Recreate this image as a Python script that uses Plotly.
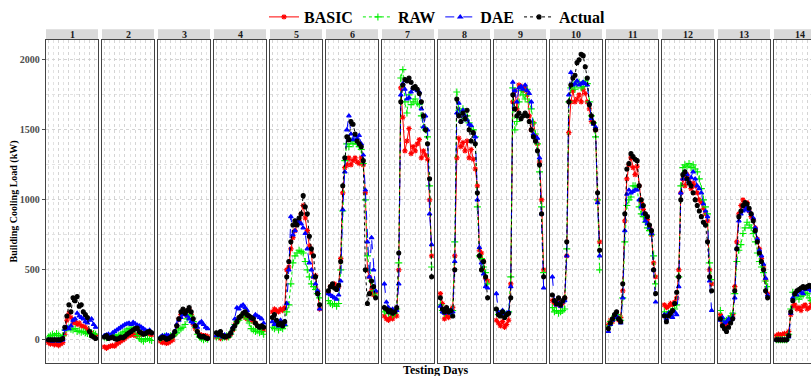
import plotly.graph_objects as go

# ---------------- data (kW), 24 readings per testing day ----------------
days = [str(i) for i in range(1, 15)]
hours = list(range(24))

basic = [
    [-20,-30,-25,-35,-30,-40,-30,-20,40,140,190,160,120,130,110,120,100,95,90,70,60,50,40,30],
    [-50,-60,-50,-45,-40,-45,-30,-20,-10,0,10,25,30,35,40,30,40,35,45,40,50,45,40,35],
    [-10,-20,-15,-25,-20,-10,0,40,100,150,180,210,200,170,220,180,110,80,60,40,35,30,30,25],
    [20,30,10,20,30,15,25,40,70,110,130,150,170,180,160,150,150,140,130,120,100,90,80,70],
    [200,220,210,200,220,210,230,500,520,650,730,780,830,850,900,960,870,780,670,620,450,460,350,220],
    [340,380,390,400,370,380,580,1050,1230,1250,1300,1250,1280,1300,1270,1260,1300,1250,1050,500,450,350,320,340],
    [170,150,140,160,150,180,170,500,1800,1590,1350,1420,1510,1330,1380,1350,1400,1430,1300,1350,1320,1290,1000,600],
    [330,260,150,180,160,200,230,600,1300,1440,1380,1410,1350,1420,1300,1360,1290,1220,1100,640,620,560,440,420],
    [140,120,100,130,90,110,140,400,1700,1780,1650,1820,1810,1780,1800,1750,1600,1500,1550,1460,1400,1270,1000,500],
    [280,260,250,270,240,260,300,600,1480,1700,1780,1700,1720,1750,1700,1790,1760,1700,1650,1560,1550,1500,1000,700],
    [110,140,130,160,180,140,160,350,850,1150,1250,1300,1230,1180,1240,1100,980,930,880,860,800,750,550,450],
    [250,230,240,260,250,270,300,500,1050,1150,1100,1180,1150,1080,1120,1100,1050,1000,980,940,900,850,500,400],
    [180,120,100,110,130,160,180,380,700,900,960,1000,950,980,920,880,860,800,720,650,580,520,430,330],
    [30,40,35,40,45,40,60,180,240,250,220,230,210,240,250,220,230,260,240,230,220,200,180,150],
]

raw = [
    [20,30,40,30,45,35,20,30,70,80,85,75,70,80,60,65,55,60,50,45,40,50,45,40],
    [20,15,30,25,40,35,20,30,40,50,60,70,80,75,90,70,30,10,0,-10,5,10,0,-5],
    [10,20,25,15,20,30,25,40,50,70,80,90,110,150,180,170,130,90,40,20,10,0,10,5],
    [20,25,30,15,20,30,20,40,70,110,130,140,170,180,170,150,120,80,70,60,70,50,60,40],
    [90,80,100,70,90,80,100,200,250,400,550,600,620,640,630,620,560,500,450,400,380,360,330,300],
    [280,260,250,260,240,260,500,920,1280,1400,1380,1420,1400,1420,1400,1380,1360,1260,1000,600,500,420,350,320],
    [200,210,190,200,180,190,220,550,1870,1930,1700,1620,1750,1680,1700,1720,1690,1680,1600,1520,1500,1450,1100,520],
    [250,210,190,210,200,190,210,700,1770,1640,1620,1650,1580,1600,1550,1500,1500,1450,950,600,580,520,480,400],
    [210,180,190,200,190,180,200,450,1800,1500,1560,1700,1780,1750,1720,1790,1700,1650,1550,1470,1400,1200,950,480],
    [230,200,210,190,200,210,220,650,1700,1800,1830,1790,1820,1840,1800,1810,1850,1830,1700,1600,1550,1450,1000,500],
    [100,130,140,170,180,150,140,300,700,960,1000,1020,1100,1100,1090,950,900,880,840,800,780,750,600,400],
    [200,180,190,200,210,220,250,450,1100,1230,1250,1240,1260,1230,1250,1220,1200,1150,1080,1000,950,900,550,430],
    [210,150,130,140,150,170,190,330,560,640,680,760,800,840,820,800,760,700,620,560,520,480,420,380],
    [0,0,0,0,0,0,40,220,340,300,320,290,310,320,340,330,300,280,270,260,250,240,220,200],
]

dae = [
    [0,-5,-10,0,-5,-10,-5,0,75,90,80,100,140,150,190,170,160,150,130,120,140,150,110,90],
    [30,35,40,30,50,60,70,80,90,100,110,115,120,110,125,115,105,100,90,80,70,60,70,50],
    [20,30,25,35,30,20,30,60,110,140,160,180,190,170,150,130,120,100,90,120,130,110,90,80],
    [30,40,30,20,35,25,30,50,90,150,230,220,240,250,230,210,170,150,160,180,170,160,150,120],
    [130,110,120,100,140,120,110,260,500,880,750,780,850,840,830,800,760,650,550,500,450,400,350,220],
    [330,320,310,300,290,320,420,930,1200,1500,1600,1470,1430,1460,1440,1460,1400,1320,1070,700,450,730,500,350],
    [400,270,230,200,220,200,210,400,1750,1830,1790,1720,1730,1770,1800,1790,1780,1770,1650,1520,1600,1500,900,680],
    [240,200,190,220,210,190,200,560,1620,1690,1560,1640,1600,1570,1540,1530,1480,1450,1000,660,550,470,380,370],
    [330,200,190,210,185,190,200,380,1840,1780,1700,1800,1810,1790,1820,1780,1760,1700,1470,1450,1440,1300,900,370],
    [450,280,250,260,240,270,280,600,1750,1910,1820,1830,1850,1820,1830,1840,1830,1820,1690,1580,1540,1520,980,600],
    [60,110,140,160,170,150,120,300,780,1040,1070,1050,1060,1070,1070,1000,950,900,850,830,800,760,500,270],
    [180,150,190,170,160,200,180,380,1050,1150,1200,1180,1130,1160,1200,1150,1100,1080,1050,970,920,880,420,210],
    [140,160,120,130,150,140,160,300,650,850,900,920,930,950,920,900,870,800,720,640,600,540,440,320],
    [0,0,0,0,0,0,20,190,300,330,320,350,340,330,360,370,360,350,330,310,300,280,250,220],
]

actual = [
    [0,0,0,0,0,0,0,10,90,170,250,200,300,280,310,240,250,200,180,160,60,30,20,10],
    [20,30,10,15,20,10,5,10,20,15,25,40,50,60,70,80,85,60,50,40,45,55,60,50],
    [10,20,15,5,10,20,30,60,100,150,200,220,190,210,230,200,150,100,60,30,20,25,15,10],
    [50,40,60,30,20,25,30,50,80,100,130,160,170,190,200,180,170,160,150,120,100,90,100,90],
    [160,180,140,110,120,100,130,450,560,700,820,850,820,870,900,1030,950,900,740,650,600,450,330,250],
    [350,380,400,370,360,390,560,1100,1300,1450,1430,1560,1540,1470,1420,1400,1380,1280,500,260,330,420,380,300],
    [230,220,200,210,190,200,230,620,1700,1820,1860,1850,1870,1840,1800,1810,1790,1760,1700,1600,1500,1400,1150,450],
    [300,220,200,230,200,210,170,500,1720,1600,1560,1620,1580,1640,1500,1420,1480,1400,1050,600,500,560,450,300],
    [220,180,170,200,160,180,190,300,1750,1650,1600,1620,1580,1600,1620,1600,1560,1500,1450,1420,1350,1250,900,450],
    [320,280,260,300,250,280,300,700,1700,1820,1870,1890,1980,2000,2040,2030,1950,1870,1680,1600,1550,1500,1050,640],
    [80,120,150,180,200,150,130,400,900,1220,1260,1330,1310,1290,1280,1100,1000,960,900,880,820,780,500,330],
    [170,130,170,190,210,260,340,450,1000,1180,1200,1150,1120,1100,1050,1000,960,920,880,840,820,700,450,350],
    [150,100,80,60,90,120,150,350,650,880,920,960,980,970,940,900,850,780,700,620,560,500,350,300],
    [0,0,0,0,0,0,30,200,280,330,350,360,370,380,370,380,390,380,360,340,320,300,250,200],
]

y_ticks = [0, 500, 1000, 1500, 2000]

# ---------------- styling ----------------
W, H = 811, 376
FONT = "Liberation Serif"
series = [
    ("BASIC", basic, "#FF0000", "solid", "asterisk-open", 4.5),
    ("RAW", raw, "#00EE00", "dot", "cross-thin-open", 5),
    ("DAE", dae, "#0000FF", "dash", "triangle-up", 4),
    ("Actual", actual, "#000000", "dot", "circle", 4),
]

PANEL_X0, PANEL_STEP, PANEL_W = 46, 56, 52
PLOT_TOP, PLOT_BOT = 37, 363
STRIP_TOP = 26.5
Y_RANGE = [-166, 2144]

n = len(hours)
x_lo = -0.05 * (n - 1)
x_hi = (n - 1) * 1.05

fig = go.Figure()
layout = {}
shapes = []
annotations = []

ydom = [(H - PLOT_BOT) / H, (H - PLOT_TOP) / H]
GRID = "#D4D4D4"
MINOR = "#E2E2E2"

for k, day in enumerate(days):
    ax = "" if k == 0 else str(k + 1)
    px0 = PANEL_X0 + PANEL_STEP * k
    px1 = min(px0 + PANEL_W, W)
    frac = (px1 - px0) / PANEL_W
    xr = [x_lo, x_lo + (x_hi - x_lo) * frac]

    for name, data, color, dash, sym, msize in series:
        fig.add_trace(go.Scatter(
            x=hours, y=data[k], xaxis="x" + ax, yaxis="y" + ax,
            mode="lines+markers", name=name, legendgroup=name,
            showlegend=(k == 0),
            line=dict(color=color, width=1, dash=dash),
            marker=dict(symbol=sym, size=msize, color=color,
                        line=dict(color=color, width=1.1)),
        ))

    last = (k == len(days) - 1)
    layout["xaxis" + ax] = dict(
        domain=[px0 / W, px1 / W], range=xr, anchor="y" + ax,
        showticklabels=False, ticks="", zeroline=False,
        showgrid=True, gridcolor=GRID, griddash="dot", gridwidth=1,
        tick0=0, dtick=5,
        minor=dict(dtick=2.5, showgrid=True, gridcolor=MINOR, griddash="dot", gridwidth=1),
        showline=True, linecolor="#444444", linewidth=1.3, mirror=True,
    )
    layout["yaxis" + ax] = dict(
        domain=ydom, range=Y_RANGE, anchor="x" + ax,
        tickvals=y_ticks, showticklabels=(k == 0),
        ticks="outside" if k == 0 else "", ticklen=3, tickcolor="#4D4D4D",
        tickfont=dict(family=FONT, size=10, color="#4D4D4D", weight="bold"),
        zeroline=False,
        showgrid=True, gridcolor=GRID, griddash="dot", gridwidth=1,
        minor=dict(dtick=250, tick0=0, showgrid=True, gridcolor=MINOR, griddash="dot", gridwidth=1),
        showline=True, linecolor="#444444", linewidth=1.3, mirror=(not last),
    )
    # facet strip
    shapes.append(dict(type="rect", xref="paper", yref="paper",
                       x0=px0 / W, x1=px1 / W,
                       y0=(H - PLOT_TOP) / H, y1=(H - STRIP_TOP) / H,
                       fillcolor="#D9D9D9", line=dict(width=0), layer="below"))
    annotations.append(dict(text=day, xref="paper", yref="paper",
                            x=(px0 + PANEL_W / 2) / W, y=(H - (PLOT_TOP + STRIP_TOP) / 2) / H,
                            showarrow=False, xanchor="center", yanchor="middle",
                            font=dict(family=FONT, size=10, color="#1A1A1A", weight="bold")))

annotations.append(dict(text="Building Cooling Load (kW)", xref="paper", yref="paper",
                        x=14 / W, y=(H - (PLOT_TOP + PLOT_BOT) / 2) / H, textangle=-90,
                        showarrow=False, xanchor="center", yanchor="middle",
                        font=dict(family=FONT, size=10, color="#000000", weight="bold")))
annotations.append(dict(text="Testing Days", xref="paper", yref="paper",
                        x=436 / W, y=(H - 370) / H,
                        showarrow=False, xanchor="center", yanchor="middle",
                        font=dict(family=FONT, size=12, color="#000000", weight="bold")))

fig.update_layout(
    width=W, height=H,
    margin=dict(l=0, r=0, t=0, b=0),
    paper_bgcolor="white", plot_bgcolor="white",
    showlegend=True,
    legend=dict(orientation="h", x=437 / W, xanchor="center", y=(H - 14) / H, yanchor="middle",
                font=dict(family=FONT, size=16, color="#000000", weight="bold"),
                itemwidth=30, tracegroupgap=0, bgcolor="rgba(0,0,0,0)"),
    shapes=shapes, annotations=annotations,
    **layout,
)

fig.write_html("out.html", config={"displayModeBar": False},
               post_script="document.body.style.margin='0';document.body.style.overflow='hidden';")
